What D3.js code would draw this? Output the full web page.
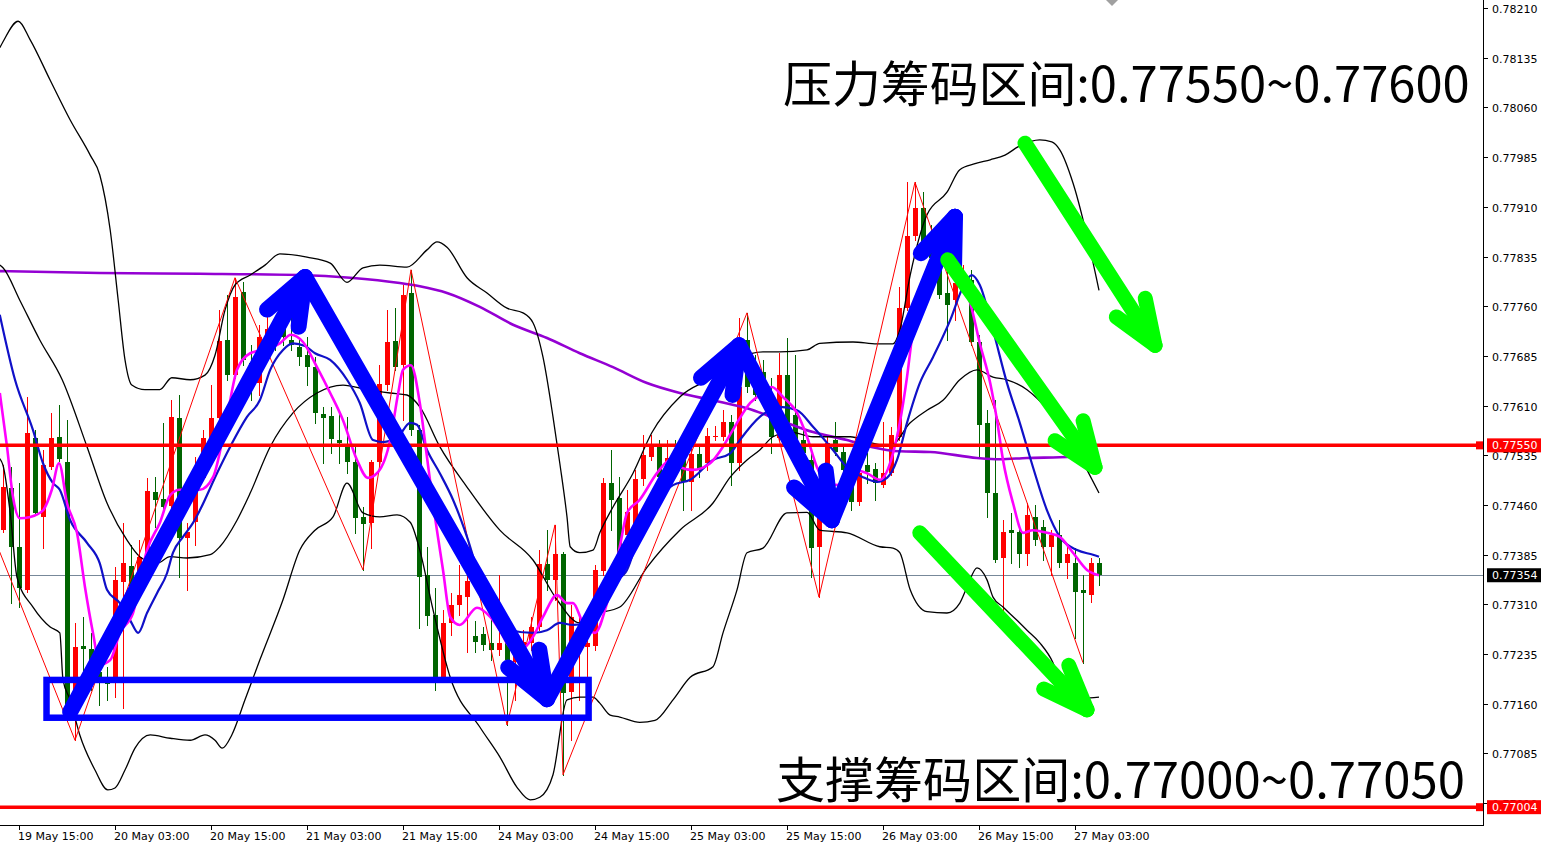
<!DOCTYPE html>
<html><head><meta charset="utf-8">
<script src="https://cdn.jsdelivr.net/npm/d3@7/dist/d3.min.js"></script>
<style>html,body{margin:0;padding:0;background:#fff;overflow:hidden}</style>
</head><body><svg id="c" width="1541" height="843"></svg>
<script>
// ---------- DATA ----------
const timeLabels = ["19 May 15:00","20 May 03:00","20 May 15:00","21 May 03:00","21 May 15:00","24 May 03:00","24 May 15:00","25 May 03:00","25 May 15:00","26 May 03:00","26 May 15:00","27 May 03:00"];
const timeTickBars = [2,14,26,38,50,62,74,86,98,110,122,134];
const priceTicks = [0.78210,0.78135,0.78060,0.77985,0.77910,0.77835,0.77760,0.77685,0.77610,0.77535,0.77460,0.77385,0.77310,0.77235,0.77160,0.77085,0.77010];

const opens = [0.77422,0.77486,0.77397,0.77332,0.77561,0.77442,0.77517,0.77563,0.77525,0.77146,0.77247,0.77243,0.77208,0.77200,0.77191,0.77344,0.77368,0.77347,0.77366,0.77480,0.77469,0.77458,0.77591,0.77410,0.77434,0.77501,0.77561,0.77591,0.77709,0.77656,0.77781,0.77674,0.77644,0.77713,0.77719,0.77735,0.77709,0.77698,0.77686,0.77668,0.77597,0.77594,0.77558,0.77550,0.77525,0.77442,0.77433,0.77525,0.77641,0.77707,0.77671,0.77780,0.77573,0.77354,0.77294,0.77200,0.77282,0.77309,0.77321,0.77262,0.77265,0.77252,0.77241,0.77252,0.77223,0.77241,0.77252,0.77276,0.77371,0.77347,0.77386,0.77178,0.77249,0.77246,0.77247,0.77360,0.77493,0.77470,0.77415,0.77395,0.77499,0.77532,0.77547,0.77513,0.77540,0.77532,0.77495,0.77537,0.77523,0.77563,0.77563,0.77585,0.77523,0.77709,0.77661,0.77661,0.77618,0.77561,0.77656,0.77596,0.77558,0.77528,0.77397,0.77508,0.77558,0.77540,0.77490,0.77465,0.77520,0.77514,0.77490,0.77508,0.77563,0.77757,0.77866,0.77908,0.77860,0.77825,0.77780,0.77769,0.77792,0.77800,0.77706,0.77584,0.77478,0.77380,0.77422,0.77419,0.77386,0.77442,0.77427,0.77397,0.77415,0.77372,0.77372,0.77332,0.77324,0.77372];
const highs = [0.77520,0.77517,0.77493,0.77623,0.77573,0.77543,0.77599,0.77611,0.77588,0.77282,0.77291,0.77267,0.77226,0.77216,0.77366,0.77433,0.77400,0.77407,0.77501,0.77502,0.77584,0.77618,0.77626,0.77433,0.77532,0.77573,0.77641,0.77754,0.77777,0.77803,0.77796,0.77701,0.77732,0.77769,0.77739,0.77754,0.77759,0.77709,0.77713,0.77683,0.77608,0.77608,0.77599,0.77593,0.77547,0.77457,0.77528,0.77671,0.77754,0.77757,0.77792,0.77815,0.77581,0.77397,0.77335,0.77302,0.77327,0.77369,0.77357,0.77285,0.77276,0.77294,0.77354,0.77256,0.77261,0.77271,0.77291,0.77392,0.77422,0.77430,0.77389,0.77309,0.77294,0.77294,0.77369,0.77501,0.77543,0.77502,0.77483,0.77513,0.77566,0.77566,0.77558,0.77558,0.77558,0.77543,0.77550,0.77550,0.77576,0.77579,0.77603,0.77596,0.77742,0.77750,0.77686,0.77679,0.77652,0.77689,0.77712,0.77686,0.77573,0.77543,0.77460,0.77566,0.77585,0.77550,0.77513,0.77520,0.77538,0.77523,0.77585,0.77578,0.77789,0.77947,0.77947,0.77932,0.77883,0.77835,0.77825,0.77825,0.77822,0.77815,0.77717,0.77603,0.77618,0.77437,0.77448,0.77430,0.77463,0.77460,0.77437,0.77422,0.77437,0.77398,0.77395,0.77354,0.77380,0.77380];
const lows = [0.77419,0.77312,0.77306,0.77329,0.77445,0.77395,0.77514,0.77526,0.77143,0.77105,0.77188,0.77181,0.77158,0.77166,0.77170,0.77154,0.77302,0.77339,0.77362,0.77427,0.77452,0.77452,0.77351,0.77332,0.77400,0.77498,0.77558,0.77588,0.77649,0.77652,0.77671,0.77618,0.77626,0.77701,0.77694,0.77701,0.77694,0.77671,0.77641,0.77584,0.77523,0.77538,0.77523,0.77508,0.77418,0.77362,0.77395,0.77520,0.77633,0.77664,0.77588,0.77566,0.77274,0.77279,0.77181,0.77196,0.77264,0.77294,0.77238,0.77238,0.77241,0.77226,0.77234,0.77128,0.77166,0.77196,0.77241,0.77271,0.77332,0.77317,0.77053,0.77105,0.77166,0.77181,0.77241,0.77354,0.77422,0.77369,0.77407,0.77392,0.77490,0.77528,0.77498,0.77501,0.77513,0.77452,0.77452,0.77503,0.77513,0.77558,0.77558,0.77490,0.77513,0.77631,0.77618,0.77618,0.77538,0.77558,0.77566,0.77550,0.77528,0.77351,0.77321,0.77501,0.77535,0.77498,0.77452,0.77460,0.77493,0.77468,0.77487,0.77505,0.77558,0.77754,0.77860,0.77835,0.77815,0.77772,0.77709,0.77739,0.77784,0.77701,0.77532,0.77442,0.77374,0.77302,0.77372,0.77366,0.77369,0.77400,0.77377,0.77354,0.77366,0.77350,0.77259,0.77222,0.77314,0.77339];
const closes = [0.77487,0.77397,0.77335,0.77569,0.77448,0.77520,0.77561,0.77529,0.77158,0.77246,0.77243,0.77222,0.77191,0.77190,0.77347,0.77372,0.77327,0.77381,0.77481,0.77468,0.77457,0.77593,0.77410,0.77419,0.77508,0.77561,0.77591,0.77707,0.77656,0.77774,0.77679,0.77644,0.77713,0.77725,0.77709,0.77713,0.77701,0.77683,0.77668,0.77599,0.77591,0.77560,0.77553,0.77525,0.77440,0.77431,0.77525,0.77642,0.77706,0.77668,0.77777,0.77573,0.77351,0.77292,0.77200,0.77282,0.77309,0.77324,0.77345,0.77253,0.77249,0.77241,0.77252,0.77226,0.77238,0.77253,0.77276,0.77371,0.77347,0.77386,0.77176,0.77291,0.77271,0.77252,0.77362,0.77493,0.77468,0.77377,0.77449,0.77499,0.77535,0.77547,0.77503,0.77531,0.77520,0.77495,0.77537,0.77513,0.77564,0.77564,0.77585,0.77523,0.77638,0.77638,0.77626,0.77641,0.77563,0.77656,0.77573,0.77558,0.77538,0.77395,0.77445,0.77553,0.77540,0.77513,0.77465,0.77508,0.77510,0.77493,0.77508,0.77566,0.77757,0.77866,0.77908,0.77845,0.77833,0.77777,0.77762,0.77795,0.77800,0.77706,0.77581,0.77478,0.77377,0.77419,0.77418,0.77386,0.77445,0.77407,0.77397,0.77415,0.77372,0.77386,0.77329,0.77327,0.77372,0.77354];

const upperBand = [[-0.4,0.78150],[0,0.78159],[1.9,0.78190],[3.4,0.78162],[5.9,0.78101],[8.4,0.78041],[10.9,0.77988],[12.1,0.77958],[13.4,0.77875],[14.4,0.77769],[15.25,0.77679],[16.1,0.77641],[17.75,0.77634],[19.6,0.77634],[21.1,0.77652],[23.4,0.77649],[25.25,0.77656],[26.5,0.77686],[27.75,0.77754],[29,0.77792],[30.9,0.77807],[32.75,0.77822],[34.6,0.77839],[38,0.77834],[40.9,0.77825],[43,0.77796],[45,0.77818],[47.1,0.77822],[50.5,0.77819],[53,0.77845],[54.25,0.77857],[55.5,0.77849],[58,0.77803],[60.5,0.77780],[63,0.77757],[65,0.77750],[66.25,0.77735],[67.5,0.77683],[68.75,0.77593],[69.6,0.77523],[70.5,0.77442],[70.9,0.77397],[72.1,0.77388],[73.75,0.77392],[74.6,0.77418],[76.25,0.77457],[78.75,0.77508],[81.1,0.77569],[84.6,0.77623],[88.75,0.77653],[92.1,0.77682],[95,0.77691],[97.1,0.77691],[100.5,0.77694],[102.1,0.77704],[106.25,0.77706],[109.25,0.77703],[111.25,0.77703],[112.1,0.77724],[113.4,0.77807],[115.5,0.77898],[118,0.77932],[119.6,0.77966],[121.5,0.77975],[123.4,0.77981],[125.25,0.77988],[127.1,0.78002],[129.6,0.78011],[131.1,0.78008],[132.1,0.77996],[133.75,0.77946],[135.9,0.77845],[137,0.77784]];
const middleBand = [[-0.4,0.77822],[0,0.77818],[2.1,0.77769],[4.6,0.77709],[7.4,0.77649],[10.5,0.77548],[13,0.77463],[15.5,0.77407],[17.1,0.77382],[19.25,0.77372],[20.9,0.77382],[23,0.77380],[25.9,0.77385],[27.1,0.77397],[29.25,0.77437],[30.9,0.77478],[33.4,0.77548],[36.25,0.77599],[39.25,0.77629],[42.5,0.77641],[45.5,0.77634],[48.4,0.77629],[50.5,0.77626],[52.1,0.77608],[54.6,0.77548],[58,0.77487],[62.1,0.77422],[66.25,0.77377],[69.25,0.77317],[72.1,0.77282],[73.75,0.77294],[77.1,0.77306],[80.5,0.77366],[84.6,0.77422],[88.75,0.77463],[90.9,0.77502],[93,0.77528],[94.6,0.77543],[96.25,0.77563],[98.4,0.77570],[101.25,0.77563],[105.9,0.77563],[108.4,0.77554],[110.9,0.77549],[113.4,0.77584],[115.5,0.77603],[117.5,0.77618],[119.6,0.77649],[121.75,0.77664],[123.75,0.77653],[125.5,0.77649],[128,0.77634],[130.9,0.77600],[133.4,0.77561],[135.5,0.77513],[137,0.77478]];
const lowerBand = [[-0.4,0.77530],[0,0.77520],[0.9,0.77448],[1.75,0.77351],[3.75,0.77306],[5.9,0.77276],[7.1,0.77267],[7.5,0.77196],[8.4,0.77166],[9.6,0.77113],[11.5,0.77060],[13.1,0.77030],[14,0.77033],[15.25,0.77060],[16.5,0.77093],[18.4,0.77113],[20.9,0.77108],[23.4,0.77105],[25.25,0.77113],[26.5,0.77105],[27.4,0.77093],[28.6,0.77113],[30.25,0.77166],[32.1,0.77226],[35,0.77317],[37.1,0.77392],[39,0.77422],[41.25,0.77442],[43,0.77493],[45,0.77448],[47.1,0.77442],[49.25,0.77445],[50.9,0.77434],[52.1,0.77392],[53.75,0.77302],[55.9,0.77200],[59.6,0.77125],[62.1,0.77080],[64.25,0.77034],[65.9,0.77015],[67.1,0.77019],[68.75,0.77053],[70.5,0.77166],[72.1,0.77170],[73.75,0.77170],[74.6,0.77161],[75.9,0.77143],[77.1,0.77140],[79.6,0.77132],[81.5,0.77135],[83.75,0.77166],[85.9,0.77200],[88.75,0.77216],[90,0.77267],[91.75,0.77332],[93,0.77388],[95,0.77395],[98,0.77448],[100.5,0.77449],[102.1,0.77422],[105.5,0.77418],[109.6,0.77397],[111.25,0.77395],[112.1,0.77388],[113.4,0.77332],[115.5,0.77299],[118,0.77297],[119.6,0.77312],[120.5,0.77336],[121.75,0.77365],[123,0.77347],[123.75,0.77321],[125,0.77306],[126.75,0.77286],[128,0.77271],[129.6,0.77252],[131.25,0.77222],[132.1,0.77196],[134,0.77173],[135.9,0.77169],[137,0.77170]];
const blueMA = [[-0.4,0.77747],[1.5,0.77649],[3.75,0.77573],[5,0.77523],[6.25,0.77493],[7.1,0.77483],[8.4,0.77437],[10.5,0.77403],[12.1,0.77372],[13,0.77332],[14.6,0.77312],[15.9,0.77286],[16.9,0.77267],[18,0.77297],[19.25,0.77327],[20.5,0.77357],[21.25,0.77388],[22.5,0.77412],[23.75,0.77433],[24.6,0.77452],[26.75,0.77508],[28.4,0.77548],[30.5,0.77593],[32.1,0.77618],[33.4,0.77664],[35,0.77694],[36.25,0.77704],[37.75,0.77700],[39,0.77689],[40.9,0.77679],[43,0.77649],[44.6,0.77614],[46.25,0.77558],[47.5,0.77555],[49.25,0.77561],[50.9,0.77584],[51.75,0.77581],[53,0.77543],[54.6,0.77508],[56.25,0.77468],[58,0.77412],[59.6,0.77350],[61.25,0.77302],[63.4,0.77271],[66.25,0.77267],[68,0.77271],[69.6,0.77282],[71.25,0.77279],[73,0.77282],[74.6,0.77309],[76.25,0.77342],[78,0.77362],[79.6,0.77418],[81.75,0.77468],[83.75,0.77490],[85.9,0.77498],[88.75,0.77528],[90.9,0.77538],[92.1,0.77558],[94.6,0.77593],[97.1,0.77608],[99.25,0.77603],[101.25,0.77578],[103.75,0.77543],[105.5,0.77517],[107.5,0.77502],[109.25,0.77495],[110.5,0.77501],[111.75,0.77528],[113,0.77584],[114.6,0.77644],[116.25,0.77683],[118.4,0.77739],[120,0.77789],[121.1,0.77807],[122.1,0.77792],[123.75,0.77724],[125.5,0.77644],[127.1,0.77584],[128.75,0.77517],[130.5,0.77452],[132.1,0.77412],[134.25,0.77392],[136.25,0.77385],[137,0.77382]];
const magentaMA = [[-0.4,0.77629],[0.5,0.77548],[1.25,0.77472],[2.1,0.77440],[3.4,0.77442],[5,0.77452],[6.1,0.77483],[7,0.77523],[8,0.77463],[9.25,0.77418],[10.25,0.77336],[11.25,0.77267],[12.1,0.77219],[13.4,0.77226],[14.6,0.77267],[16.25,0.77297],[18,0.77392],[19.6,0.77433],[20.9,0.77475],[22.1,0.77483],[24.6,0.77483],[26.25,0.77502],[28,0.77593],[29.25,0.77664],[30.9,0.77689],[32.5,0.77694],[34.6,0.77704],[36,0.77717],[37.5,0.77706],[39.25,0.77668],[40.9,0.77629],[42.5,0.77588],[44.25,0.77528],[45.6,0.77501],[46.9,0.77510],[48.4,0.77558],[49.4,0.77629],[50,0.77664],[51,0.77671],[52.1,0.77614],[53,0.77532],[53.75,0.77463],[55,0.77362],[55.9,0.77291],[57.1,0.77279],[59.25,0.77305],[60.9,0.77291],[62.1,0.77271],[63.4,0.77246],[65,0.77244],[66.25,0.77261],[67.5,0.77291],[69.25,0.77324],[70.5,0.77312],[71.25,0.77312],[72.5,0.77282],[74,0.77267],[75.5,0.77312],[77.1,0.77397],[78,0.77448],[79.6,0.77468],[81.75,0.77508],[83.4,0.77528],[84.6,0.77517],[86.25,0.77513],[88.4,0.77523],[90,0.77548],[91.75,0.77584],[93.4,0.77614],[95,0.77629],[96.1,0.77638],[97.5,0.77623],[99.25,0.77599],[100.5,0.77563],[101.75,0.77517],[103,0.77493],[104.6,0.77490],[106.25,0.77513],[108,0.77508],[109.6,0.77498],[111.25,0.77538],[112.1,0.77584],[113,0.77653],[113.75,0.77724],[114.6,0.77774],[115.5,0.77815],[116.75,0.77840],[118,0.77825],[119.6,0.77804],[120.9,0.77765],[122.1,0.77704],[123.4,0.77644],[124.25,0.77588],[125,0.77528],[126.25,0.77463],[127.5,0.77418],[128.75,0.77422],[130.5,0.77418],[132.1,0.77412],[133.75,0.77388],[135.5,0.77362],[137,0.77354]];
const purpleMA = [[-0.4,0.77813],[12.1,0.77810],[24.6,0.77809],[37.1,0.77807],[43.4,0.77803],[49.6,0.77795],[52.1,0.77790],[55.5,0.77780],[59.6,0.77759],[63.75,0.77732],[68,0.77712],[72.1,0.77689],[76.25,0.77668],[80.5,0.77644],[84.6,0.77629],[88.75,0.77618],[93,0.77606],[97.1,0.77588],[101.25,0.77570],[105.5,0.77558],[108.4,0.77548],[112.1,0.77541],[115.9,0.77540],[121.75,0.77531],[124.6,0.77529],[128,0.77531],[132.1,0.77532],[137,0.77535]];

const zigzagBars = [-2,9,29,45,51,63,69,70,93,102,114,135];
const zigzagPrices = [0.77437,0.77105,0.77803,0.77362,0.77815,0.77128,0.77430,0.77053,0.77750,0.77321,0.77947,0.77222];

const resistanceLevel = 0.77550, supportLevel = 0.77004, bidPrice = 0.77354;
const blueArrowPath = [[8.4,0.77148],[37.75,0.77804],[68,0.77167],[92,0.77701],[103.6,0.77437],[119,0.77895]];
const greenArrows = [[[127.75,0.78006],[144,0.77701]],[[118.1,0.77830],[136.5,0.77517]],[[114.6,0.77418],[135.5,0.77151]]];
const supportBoxBars = [5.44,73.2], supportBoxPrices = [0.77139,0.77196];
const textTop = "压力筹码区间:0.77550~0.77600";
const textBottom = "支撑筹码区间:0.77000~0.77050";

// ---------- CHART ----------
const svg = d3.select('#c');
const plotR = 1483, plotB = 825;
const x = d3.scaleLinear().domain([0,137]).range([3,1099]);
const y = d3.scaleLinear().domain([0.77010,0.78210]).range([803.2,8]);

svg.append('rect').attr('width',1541).attr('height',843).attr('fill','#fff');
svg.append('defs').append('clipPath').attr('id','clip').append('rect').attr('x',0).attr('y',0).attr('width',plotR).attr('height',plotB);
const g = svg.append('g').attr('clip-path','url(#clip)');

// grey bid line
g.append('line').attr('x1',0).attr('x2',plotR).attr('y1',Math.round(y(bidPrice))+0.5).attr('y2',Math.round(y(bidPrice))+0.5).attr('stroke','#778899').attr('stroke-width',1);

// candles
const bars = d3.range(opens.length).map(i=>({i,o:opens[i],h:highs[i],l:lows[i],c:closes[i]}));
const cg = g.append('g');
bars.forEach(b=>{
  const cx = Math.round(x(b.i));
  const col = b.c >= b.o ? '#ff0000' : '#006400';
  cg.append('line').attr('x1',cx+0.5).attr('x2',cx+0.5).attr('y1',Math.round(y(b.h))).attr('y2',Math.round(y(b.l))+1).attr('stroke',col).attr('stroke-width',1);
  const yt = Math.round(y(Math.max(b.o,b.c))), yb = Math.round(y(Math.min(b.o,b.c)));
  cg.append('rect').attr('x',cx-2).attr('y',yt).attr('width',5).attr('height',Math.max(1,yb-yt)).attr('fill',col);
});

const line = d3.line().x(d=>x(d[0])).y(d=>y(d[1])).curve(d3.curveMonotoneX);
function drawLine(data,color,w){ g.append('path').attr('d',line(data)).attr('fill','none').attr('stroke',color).attr('stroke-width',w).attr('stroke-linejoin','round'); }
drawLine(purpleMA,'#9400d3',2.6);
drawLine(upperBand,'#000',1.3);
drawLine(middleBand,'#000',1.3);
drawLine(lowerBand,'#000',1.3);
// zigzag
g.append('path').attr('d',d3.line().x(d=>x(d[0])).y(d=>y(d[1]))(zigzagBars.map((b,k)=>[b,zigzagPrices[k]]))).attr('fill','none').attr('stroke','#ff0000').attr('stroke-width',1);
drawLine(blueMA,'#1010c8',2.2);
drawLine(magentaMA,'#ff00ff',2.6);

// horizontal levels
[resistanceLevel,supportLevel].forEach(p=>{
  g.append('line').attr('x1',0).attr('x2',plotR).attr('y1',y(p)).attr('y2',y(p)).attr('stroke','#ff0000').attr('stroke-width',3.5);
  g.append('rect').attr('x',plotR-7).attr('y',y(p)-4).attr('width',8).attr('height',8).attr('fill','#ff0000');
});

// support box
g.append('rect').attr('x',x(supportBoxBars[0])).attr('y',y(supportBoxPrices[1])).attr('width',x(supportBoxBars[1])-x(supportBoxBars[0])).attr('height',y(supportBoxPrices[0])-y(supportBoxPrices[1])).attr('fill','none').attr('stroke','#0000ff').attr('stroke-width',6.5);

function arrow(pts,color,w,len,ang){
  const P = pts.map(p=>[x(p[0]),y(p[1])]);
  const ag = g.append('g').attr('stroke',color).attr('stroke-width',w).attr('stroke-linecap','round').attr('stroke-linejoin','round').attr('fill','none');
  ag.append('path').attr('d',d3.line()(P));
  for(let k=1;k<P.length;k++){
    const [x0,y0]=P[k-1],[x1,y1]=P[k];
    const a=Math.atan2(y0-y1,x0-x1);
    [ang,-ang].forEach(s=>{
      ag.append('line').attr('x1',x1).attr('y1',y1).attr('x2',x1+len*Math.cos(a+s)).attr('y2',y1+len*Math.sin(a+s));
    });
  }
}
arrow(blueArrowPath,'#0000ff',16,50,21*Math.PI/180);
greenArrows.forEach(p=>arrow(p,'#00ff00',15,48,21*Math.PI/180));

// big texts
function bigText(str,x0,base,target){
  const t = svg.append('text').attr('x',x0).attr('y',base).attr('font-family','"Noto Sans CJK SC"').attr('font-size',48).attr('fill','#000').text(str);
  const L = t.node().getComputedTextLength();
  if(L>0) t.attr('font-size',48*target/L);
}
bigText(textTop,783,102,687);
bigText(textBottom,776,798,689);

// axes frame
svg.append('line').attr('x1',plotR+0.5).attr('x2',plotR+0.5).attr('y1',0).attr('y2',plotB).attr('stroke','#000');
svg.append('line').attr('x1',0).attr('x2',plotR+1).attr('y1',plotB+0.5).attr('y2',plotB+0.5).attr('stroke','#000');

// price ticks
priceTicks.forEach(p=>{
  const yy = Math.round(y(p))+0.5;
  svg.append('line').attr('x1',plotR).attr('x2',plotR+5).attr('y1',yy).attr('y2',yy).attr('stroke','#000');
  svg.append('text').attr('x',1492).attr('y',yy+4).attr('font-family','"DejaVu Sans"').attr('font-size',11).attr('fill','#000').text(p.toFixed(5));
});
// time ticks
timeTickBars.forEach((b,k)=>{
  const xx = Math.round(x(b))+0.5;
  svg.append('line').attr('x1',xx).attr('x2',xx).attr('y1',plotB).attr('y2',plotB+5).attr('stroke','#000');
  svg.append('text').attr('x',xx-1.5).attr('y',840).attr('font-family','"DejaVu Sans"').attr('font-size',11).attr('fill','#000').text(timeLabels[k]);
});

// price tags
function tag(p,bg){
  const yy = y(p);
  svg.append('rect').attr('x',plotR+4).attr('y',yy-7).attr('width',1541-plotR-4).attr('height',14).attr('fill',bg);
  svg.append('text').attr('x',1492).attr('y',yy+4).attr('font-family','"DejaVu Sans"').attr('font-size',11).attr('fill','#fff').text(p.toFixed(5));
}
tag(resistanceLevel,'#ff0000');
tag(bidPrice,'#000');
tag(supportLevel,'#ff0000');

// chart shift marker
svg.append('path').attr('d','M1106,0L1118,0L1112,6Z').attr('fill','#a0a0a0');
</script></body></html>
